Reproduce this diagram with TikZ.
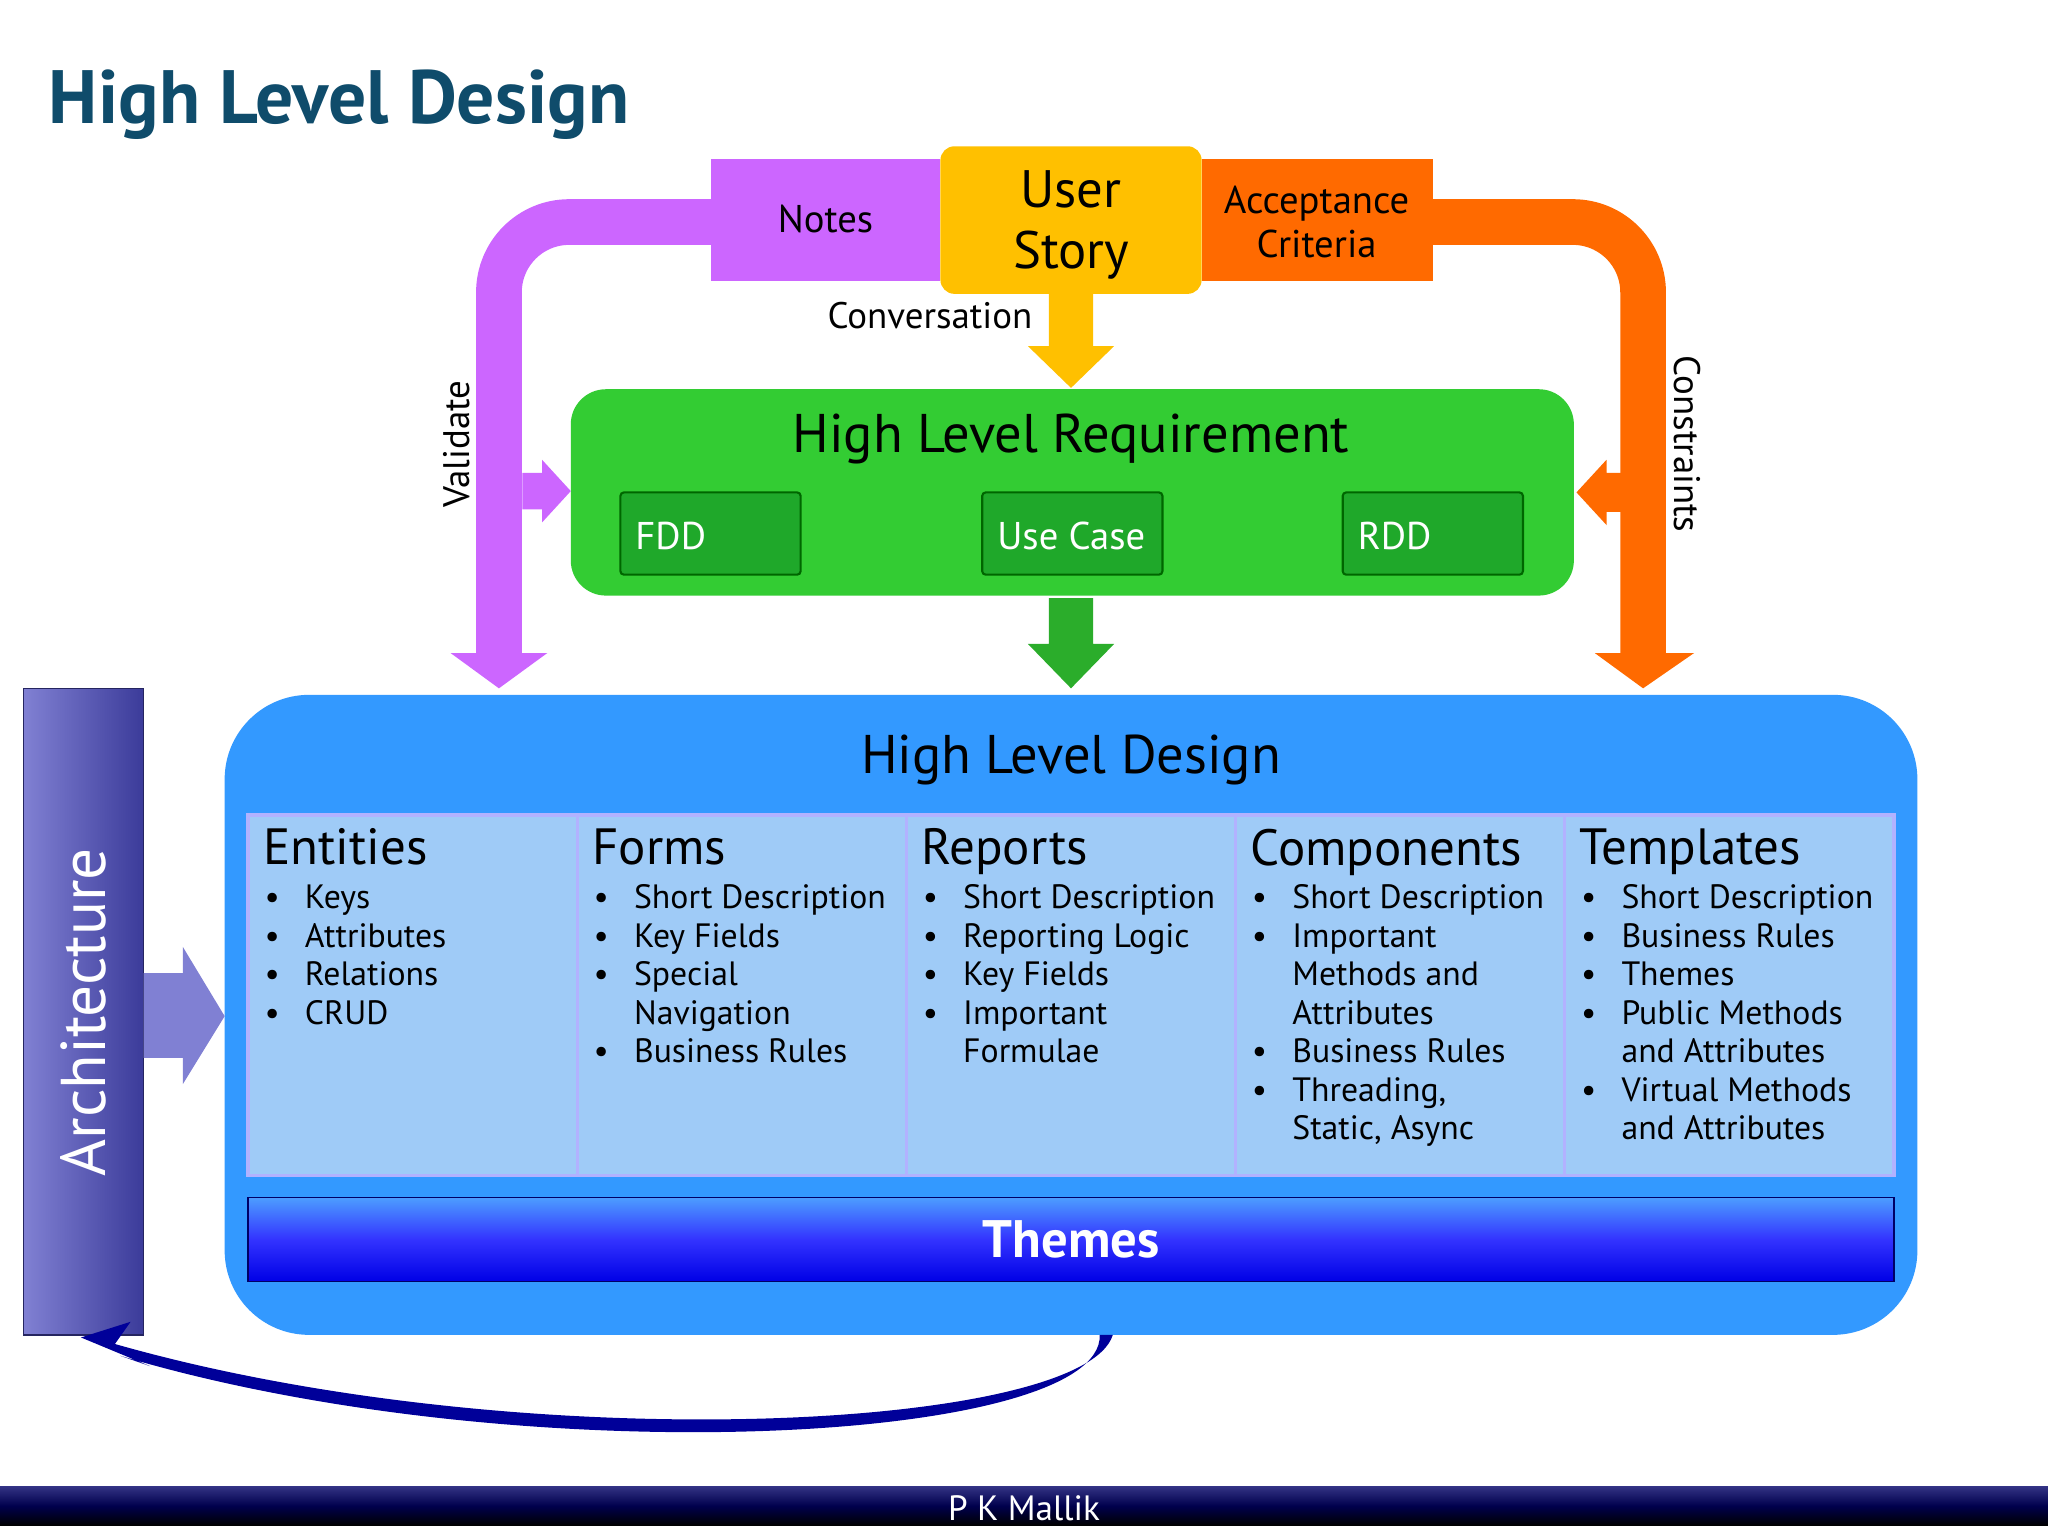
\documentclass[tikz,border=0pt]{standalone}
\usepackage{fontspec}
\setmainfont{PT Sans}
\usetikzlibrary{arrows.meta,shapes.geometric}
\definecolor{ttl}{HTML}{0F4C6B}
\definecolor{purp}{HTML}{CC66FF}
\definecolor{usy}{HTML}{FFC000}
\definecolor{acc}{HTML}{FF6A00}
\definecolor{grn}{HTML}{33CC33}
\definecolor{dgrn}{HTML}{1FA82A}
\definecolor{blu}{HTML}{3399FF}
\definecolor{lblu}{HTML}{9FCBF7}
\definecolor{arch}{HTML}{4A4AC0}
\newcommand{\fs}[1]{\fontsize{#1}{1.15\dimexpr#1pt\relax}\selectfont}
\newcommand{\bi}{\makebox[11.5pt][l]{\textbullet}}
\newcommand{\bc}{\makebox[11.5pt][l]{}}
\begin{document}
\begin{tikzpicture}[x=0.01306cm,y=-0.01306cm,
  col/.style={draw=white!70!blue,fill=lblu,line width=1pt},
  hd/.style={anchor=north west,font=\fs{14.5},inner sep=0pt},
  bl/.style={anchor=north west,align=left,inner sep=0pt,font={\fontsize{9.6}{10.95}\selectfont}},
  sub/.style={fill=dgrn,draw=green!40!black,line width=0.6pt,rounded corners=1pt},
  subt/.style={text=white,font=\fs{11},anchor=west,inner sep=0pt}]
\useasboundingbox (0,0) rectangle (1568,1177);
\fill[white] (0,0) rectangle (1568,1177);
\node[anchor=west,text=ttl,font=\bfseries\fs{21.5}] (title) at (28,80) {High Level Design};
% pipes
\draw[purp,line width=13pt,rounded corners=20pt] (560,170) -- (382,170) -- (382,500);
\fill[purp] (345,500) -- (419,500) -- (382,527) -- cycle;
\draw[acc,line width=13pt,rounded corners=20pt] (1080,170) -- (1258,170) -- (1258,500);
\fill[acc] (1221,500) -- (1297,500) -- (1258,527) -- cycle;
% top boxes
\fill[purp] (544,122) rectangle (720,215);
\node[font=\fs{11}] (notes) at (632,168) {Notes};
\fill[acc] (920,122) rectangle (1097,215);
\node[font=\fs{11},align=center] (accb) at (1008,170) {Acceptance\\Criteria};
\fill[usy,rounded corners=4pt] (720,112) rectangle (920,225);
\node[font=\fs{15},align=center] (us) at (820,172) {User\\Story};
% yellow arrow
\fill[usy] (803,225) -- (837,225) -- (837,265) -- (853,265) -- (820,297) -- (787,265) -- (803,265) -- cycle;
\node[font=\fs{10.5}] (conv) at (712,242) {Conversation};
\node[rotate=90,font=\fs{10.5}] (val) at (350,340) {Validate};
\node[rotate=-90,font=\fs{10.5}] (con) at (1292,340) {Constraints};
% green box
\fill[grn,rounded corners=10pt] (437,298) rectangle (1205,456);
\node[font=\fs{15.5}] (hlrt) at (820,336) {High Level Requirement};
\draw[sub] (475,377) rectangle (613,440);
\node[subt] (fdd) at (486,410) {FDD};
\draw[sub] (752,377) rectangle (890,440);
\node[subt] (uc) at (763,410) {Use Case};
\draw[sub] (1028,377) rectangle (1166,440);
\node[subt] (rdd) at (1039,410) {RDD};
\fill[purp] (400,362) -- (415,362) -- (415,352) -- (437,376) -- (415,400) -- (415,390) -- (400,390) -- cycle;
\fill[acc] (1243,362) -- (1230,362) -- (1230,352) -- (1207,377) -- (1230,402) -- (1230,392) -- (1243,392) -- cycle;
\fill[grn!85!black] (803,458) -- (837,458) -- (837,493) -- (853,493) -- (820,527) -- (787,493) -- (803,493) -- cycle;
% blue box
\fill[blu,rounded corners=24pt] (172,532) rectangle (1468,1022);
\node[font=\fs{15.5}] (hldt) at (820,582) {High Level Design};
\foreach \x in {190,442,694,946,1198}{
  \draw[col] (\x,624) rectangle ++(252,276);
}
\node[hd] (h1) at (201,634) {Entities};
\node[hd] (h2) at (453,634) {Forms};
\node[hd] (h3) at (705,634) {Reports};
\node[hd] (h4) at (957,634) {Components};
\node[hd] (h5) at (1209,634) {Templates};
\node[bl] (b1) at (202,677) {\bi Keys\\\bi Attributes\\\bi Relations\\\bi CRUD};
\node[bl] (b2) at (454,677) {\bi Short Description\\\bi Key Fields\\\bi Special\\\bc Navigation\\\bi Business Rules};
\node[bl] (b3) at (706,677) {\bi Short Description\\\bi Reporting Logic\\\bi Key Fields\\\bi Important\\\bc Formulae};
\node[bl] (b4) at (958,677) {\bi Short Description\\\bi Important\\\bc Methods and\\\bc Attributes\\\bi Business Rules\\\bi Threading,\\\bc Static, Async};
\node[bl] (b5) at (1210,677) {\bi Short Description\\\bi Business Rules\\\bi Themes\\\bi Public Methods\\\bc and Attributes\\\bi Virtual Methods\\\bc and Attributes};
\shade[top color=blue!55!cyan!70!white,bottom color=blue!90!black,middle color=blue!80] (190,917) rectangle (1450,981);
\draw[blue!40!black] (190,917) rectangle (1450,981);
\node[text=white,font=\bfseries\fs{15}] (th) at (820,949) {Themes};
% architecture
\shade[left color=arch!70!white,right color=arch!80!black,draw=arch!50!black] (18,527) rectangle (110,1022);
\node[rotate=90,text=white,font=\fs{18}] (ar) at (64,775) {Architecture};
\fill[arch!70!white] (110,745) -- (140,745) -- (140,725) -- (172,778) -- (140,830) -- (140,810) -- (110,810) -- cycle;
% curved arrow
\fill[blue!60!black] (842,1022) .. controls (845,1105) and (400,1130) .. (92,1038) -- (115,1046) -- (62,1024) -- (100,1012) -- (88,1029) .. controls (400,1118) and (830,1095) .. (852,1022) -- cycle;
% footer
\shade[top color=black!60!blue!80,bottom color=black,middle color=blue!30!black] (0,1138) rectangle (1568,1168);
\node[text=white,font=\fs{10}] (ft) at (784,1155) {P K Mallik};
\end{tikzpicture}
\end{document}
